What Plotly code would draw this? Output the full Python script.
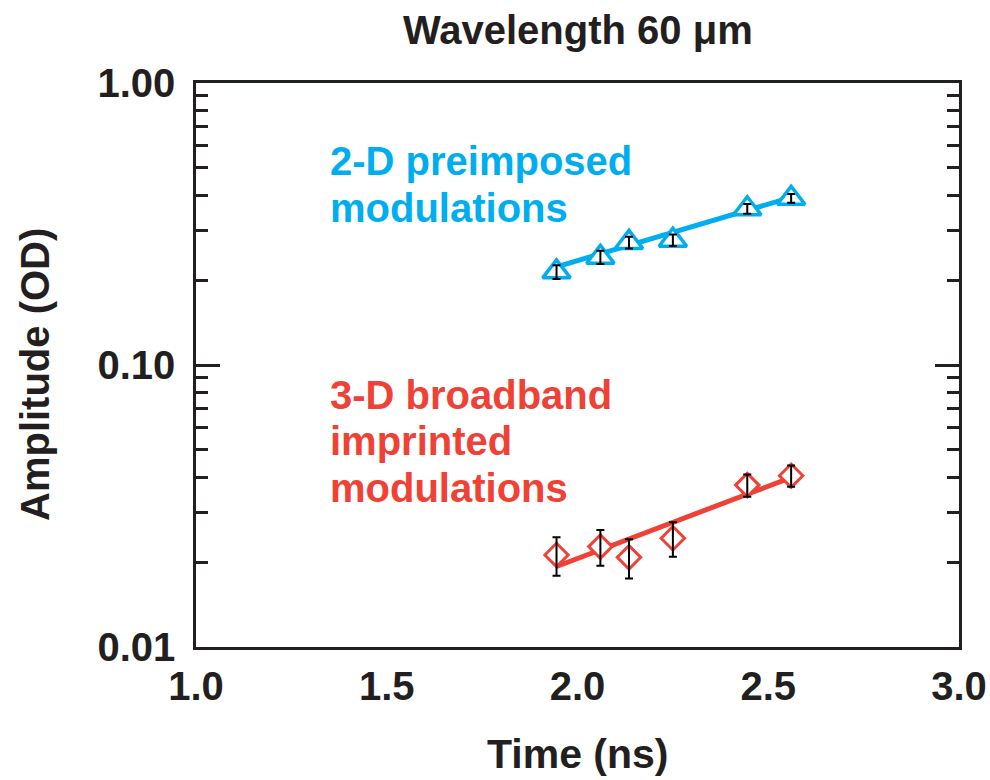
import plotly.graph_objects as go

# ---- data ----
time_ns = [1.945, 2.06, 2.135, 2.25, 2.445, 2.56]
amp_2d = [0.214, 0.241, 0.272, 0.277, 0.358, 0.390]
err_2d = [0.012, 0.013, 0.013, 0.013, 0.014, 0.014]
amp_3d = [0.0212, 0.0227, 0.0208, 0.0243, 0.0375, 0.0405]
err_3d = [0.0033, 0.0033, 0.0033, 0.0034, 0.0034, 0.0035]
fit_x = [1.945, 2.56]
fit_2d = [0.223, 0.393]
fit_3d = [0.0193, 0.0399]

x_ticks = [1.0, 1.5, 2.0, 2.5, 3.0]
x_ticktext = ["1.0", "1.5", "2.0", "2.5", "3.0"]
y_ticks = [0.01, 0.1, 1.0]
y_ticktext = ["0.01", "0.10", "1.00"]
y_minor = [0.02, 0.03, 0.04, 0.05, 0.06, 0.07, 0.08, 0.09,
           0.2, 0.3, 0.4, 0.5, 0.6, 0.7, 0.8, 0.9]

label_2d = ["2-D preimposed", "modulations"]
label_3d = ["3-D broadband", "imprinted", "modulations"]

BLUE = "#00AEEF"
RED = "#EF4136"
INK = "#231F20"
FONT = "Liberation Sans, Arial, Helvetica, sans-serif"

# plot-area geometry in page pixels (used only to place free text)
TOP, BOT, LEFT, RIGHT = 83, 647, 196, 959


def py(p):
    return (BOT - p) / (BOT - TOP)


def px(p):
    return (p - LEFT) / (RIGHT - LEFT)


fig = go.Figure()

# fit lines
fig.add_trace(go.Scatter(x=fit_x, y=fit_2d, mode="lines",
                         line=dict(color=BLUE, width=5), showlegend=False))
fig.add_trace(go.Scatter(x=fit_x, y=fit_3d, mode="lines",
                         line=dict(color=RED, width=5), showlegend=False))

# markers
fig.add_trace(go.Scatter(x=time_ns, y=amp_2d, mode="markers",
                         marker=dict(symbol="triangle-up", size=24, color="white",
                                     line=dict(color=BLUE, width=3.5)),
                         showlegend=False))
fig.add_trace(go.Scatter(x=time_ns, y=amp_3d, mode="markers",
                         marker=dict(symbol="diamond", size=18, color="white",
                                     line=dict(color=RED, width=3)),
                         showlegend=False))

# error bars on top
for yy, ee in [(amp_2d, err_2d), (amp_3d, err_3d)]:
    fig.add_trace(go.Scatter(x=time_ns, y=yy, mode="markers",
                             marker=dict(size=1, opacity=0),
                             error_y=dict(type="data", array=ee, visible=True,
                                          color="black", thickness=2, width=4),
                             showlegend=False))

# text annotations, one per line for tight line spacing
for txt, cy in zip(label_2d, [161, 208]):
    fig.add_annotation(text=txt, xref="paper", yref="paper",
                       x=px(328), y=py(cy), xanchor="left", yanchor="middle",
                       showarrow=False,
                       font=dict(family=FONT, size=40, color=BLUE, weight="bold"))
for txt, cy in zip(label_3d, [395, 441, 488]):
    fig.add_annotation(text=txt, xref="paper", yref="paper",
                       x=px(328), y=py(cy), xanchor="left", yanchor="middle",
                       showarrow=False,
                       font=dict(family=FONT, size=40, color=RED, weight="bold"))

# titles
fig.add_annotation(text="Wavelength 60 \u03bcm", xref="paper", yref="paper",
                   x=0.5, y=py(30), xanchor="center", yanchor="middle",
                   showarrow=False,
                   font=dict(family=FONT, size=40, color=INK, weight="bold"))
fig.add_annotation(text="Time (ns)", xref="paper", yref="paper",
                   x=0.5, y=py(754), xanchor="center", yanchor="middle",
                   showarrow=False,
                   font=dict(family=FONT, size=41, color=INK, weight="bold"))
fig.add_annotation(text="Amplitude (OD)", xref="paper", yref="paper",
                   x=px(35), y=py(375), xanchor="center", yanchor="middle",
                   textangle=-90, showarrow=False,
                   font=dict(family=FONT, size=40, color=INK, weight="bold"))

fig.update_layout(
    width=990, height=780,
    margin=dict(l=196, r=31, t=83, b=133, autoexpand=False),
    paper_bgcolor="white", plot_bgcolor="white",
    font=dict(family=FONT, color=INK),
)
fig.update_xaxes(range=[1, 3], tickmode="array", tickvals=x_ticks, ticktext=x_ticktext,
                 ticks="", showgrid=False, zeroline=False,
                 showline=True, linecolor=INK, linewidth=2.5, mirror=True,
                 tickfont=dict(family=FONT, size=40, color=INK, weight="bold"),
                 ticklabelstandoff=2, ticklabeloverflow="allow")
fig.update_yaxes(type="log", range=[-2, 0], tickmode="array", tickvals=y_ticks,
                 ticktext=y_ticktext, ticks="inside", ticklen=24, tickwidth=3,
                 tickcolor=INK, showgrid=False, zeroline=False,
                 showline=True, linecolor=INK, linewidth=2.5, mirror="ticks",
                 minor=dict(tickvals=y_minor, ticks="inside", ticklen=12,
                            tickwidth=3, tickcolor=INK, showgrid=False),
                 tickfont=dict(family=FONT, size=40, color=INK, weight="bold"),
                 ticklabelstandoff=10)

# remove the page's default body margin so the 990x780 figure fills the window
fig.write_html("out.html",
               config={"displayModeBar": False},
               post_script="document.body.style.margin='0';"
                           "document.body.style.overflow='hidden';")
